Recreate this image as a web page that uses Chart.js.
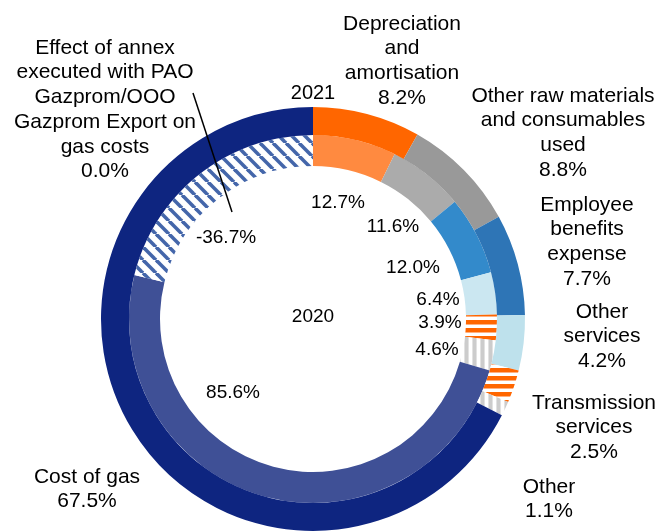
<!DOCTYPE html>
<html>
<head>
<meta charset="utf-8">
<script src="https://cdn.jsdelivr.net/npm/chart.js@4.4.1/dist/chart.umd.min.js"></script>
<style>
  html, body { margin: 0; padding: 0; background: #ffffff; }
  #wrap { width: 661px; height: 532px; position: relative; }
</style>
</head>
<body>
<div id="wrap"><canvas id="c" width="661" height="532"></canvas></div>
<script>
// ---- data ----
const categories = [
  "Depreciation and amortisation",
  "Other raw materials and consumables used",
  "Employee benefits expense",
  "Other services",
  "Transmission services",
  "Other",
  "Cost of gas",
  "Effect of annex executed with PAO Gazprom/OOO Gazprom Export on gas costs"
];
const values2021 = [8.2, 8.8, 7.7, 4.2, 2.5, 1.1, 67.5, 0.0];
const values2020 = [12.7, 11.6, 12.0, 6.4, 3.9, 4.6, 85.6, -36.7];
const seriesNames = ["2021", "2020"];

// outer label text (multi-line) for 2021 ring
const outerLabelLines = [
  ["Depreciation", "and", "amortisation"],
  ["Other raw materials", "and consumables", "used"],
  ["Employee", "benefits", "expense"],
  ["Other", "services"],
  ["Transmission", "services"],
  ["Other"],
  ["Cost of gas"],
  ["Effect of annex", "executed with PAO", "Gazprom/OOO", "Gazprom Export on", "gas costs"]
];

// ---- layout (label placement relative to the chart centre) ----
const outerLabelPos = [
  [89, -295], [250, -223], [274, -114], [289, -7],
  [281, 84], [236, 168], [-226, 158], [-208, -271]
];
const innerLabelPos = [
  [25, -116], [80, -92], [100, -51], [125, -19],
  [127, 4], [124, 31], [-80, 74], [-87, -81]
];
const LINE_H = 24.7;

// ---- patterns ----
function makePattern(draw, w, h) {
  const c = document.createElement('canvas');
  c.width = w; c.height = h;
  const g = c.getContext('2d');
  g.fillStyle = '#ffffff';
  g.fillRect(0, 0, w, h);
  draw(g, w, h);
  return document.getElementById('c').getContext('2d').createPattern(c, 'repeat');
}
const orangeStripes = makePattern((g, w, h) => {
  g.fillStyle = '#FF6600';
  g.fillRect(0, 0, w, 4);
  g.fillStyle = '#FFB080';
  g.fillRect(0, 4, w, 1);
}, 8, 8);
const grayStripes = makePattern((g, w, h) => {
  g.fillStyle = '#e2e2e2';
  g.fillRect(0, 0, 5, h);
  g.fillStyle = '#cccccc';
  g.fillRect(1, 0, 3, h);
}, 8, 8);
const blueDiag = makePattern((g, s) => {
  g.strokeStyle = '#4466aa';
  g.lineWidth = 3.6;
  for (const x0 of [-s, 0, s]) {
    g.beginPath();
    g.moveTo(x0, 0);
    g.lineTo(x0 + s, s);
    g.stroke();
  }
}, 13, 13);

const colors2021 = ['#FF6600', '#999999', '#2E75B6', '#BEE1EC', orangeStripes, grayStripes, '#0E2580', blueDiag];
const colors2020 = ['#FF8A40', '#ABABAB', '#338ACB', '#CBE7F1', orangeStripes, grayStripes, '#3F5096', blueDiag];

function fmt(v) { return v.toFixed(1) + '%'; }

const labelPlugin = {
  id: 'labels',
  afterDraw(chart) {
    const ctx = chart.ctx;
    const arc0 = chart.getDatasetMeta(0).data[0];
    const cx = arc0.x, cy = arc0.y;
    const outerR = arc0.outerRadius;
    ctx.save();
    ctx.fillStyle = '#000000';
    ctx.textAlign = 'center';
    ctx.textBaseline = 'middle';

    // outer labels (2021)
    ctx.font = '21px "Liberation Sans", Arial, sans-serif';
    outerLabelLines.forEach((lines, i) => {
      const all = lines.concat([fmt(values2021[i])]);
      const [dx, dy] = outerLabelPos[i];
      all.forEach((t, k) => ctx.fillText(t, cx + dx, cy + dy + k * LINE_H));
    });

    // inner labels (2020)
    ctx.font = '19px "Liberation Sans", Arial, sans-serif';
    values2020.forEach((v, i) => {
      const [dx, dy] = innerLabelPos[i];
      ctx.fillText(fmt(v), cx + dx, cy + dy);
    });

    // series names
    ctx.font = '20px "Liberation Sans", Arial, sans-serif';
    ctx.fillText(seriesNames[0], cx, cy - outerR - 14);
    ctx.font = '19px "Liberation Sans", Arial, sans-serif';
    ctx.fillText(seriesNames[1], cx, cy - 2);

    // leader line for the annex label
    ctx.strokeStyle = '#000000';
    ctx.lineWidth = 1.5;
    ctx.beginPath();
    ctx.moveTo(cx - 120, cy - 226);
    ctx.lineTo(cx - 81, cy - 107);
    ctx.stroke();
    ctx.restore();
  }
};

new Chart(document.getElementById('c'), {
  type: 'doughnut',
  data: {
    labels: categories,
    datasets: [
      { label: seriesNames[0], data: values2021, backgroundColor: colors2021, borderWidth: 0, weight: 28 },
      { label: seriesNames[1], data: values2020, backgroundColor: colors2020, borderWidth: 0, weight: 31 }
    ]
  },
  options: {
    responsive: false,
    animation: false,
    cutout: 153,
    layout: { padding: { left: 101, right: 136, top: 107, bottom: 1 } },
    plugins: { legend: { display: false }, tooltip: { enabled: false } }
  },
  plugins: [labelPlugin]
});
</script>
</body>
</html>
